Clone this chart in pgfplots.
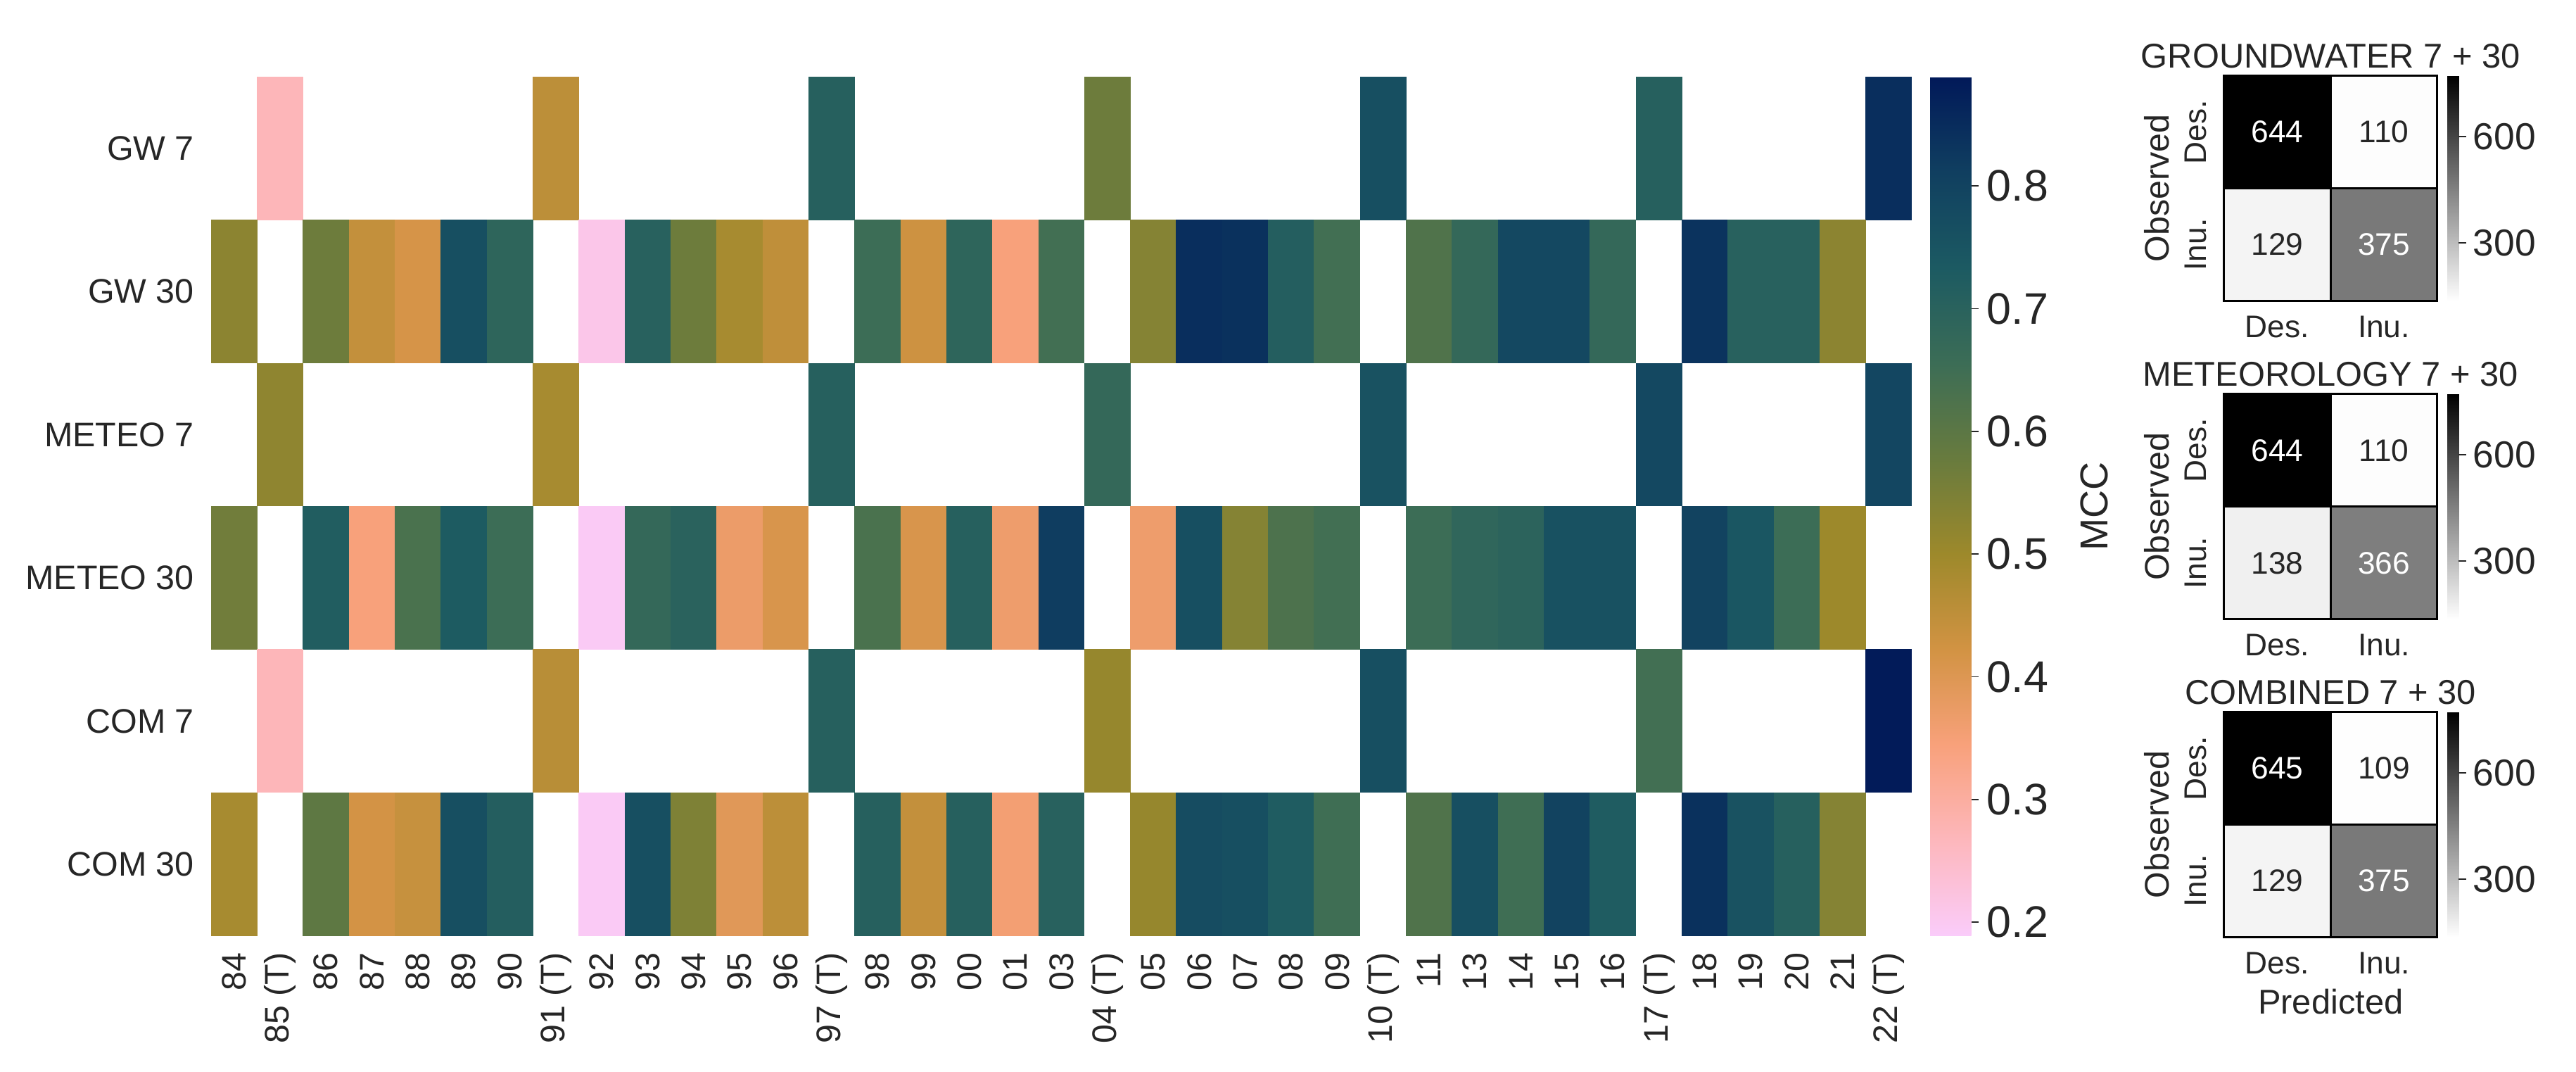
\documentclass[border=0pt]{standalone}
\usepackage{pgfplots}
\pgfplotsset{compat=1.18}
\usepackage{pgfplotstable}
\usepackage{fontspec}
\setmainfont{Liberation Sans}
\definecolor{txt}{RGB}{38,38,38}
\newcommand{\fs}[1]{\fontsize{#1}{#1}\selectfont}
\pgfplotsset{/pgf/number format/assume math mode=true}

\pgfdeclareplotmark{hmcell}{%
  \pgfpathrectangle{\pgfpoint{-2.82mm}{-8.73mm}}{\pgfpoint{5.64mm}{17.46mm}}%
  \pgfusepathqfill}

% MCC heatmap: x = column index, y = row index (0 = GW 7 ... 5 = COM 30)
\pgfplotstableread{
x y v
1 0 0.27
7 0 0.455
13 0 0.71
19 0 0.57
25 0 0.765
31 0 0.71
36 0 0.845
}\hmgwseven
\pgfplotstableread{
x y v
0 1 0.525
2 1 0.57
3 1 0.445
4 1 0.415
5 1 0.765
6 1 0.69
8 1 0.21
9 1 0.705
10 1 0.57
11 1 0.485
12 1 0.45
14 1 0.655
15 1 0.43
16 1 0.69
17 1 0.345
18 1 0.645
20 1 0.535
21 1 0.846
22 1 0.84
23 1 0.715
24 1 0.645
26 1 0.62
27 1 0.675
28 1 0.785
29 1 0.785
30 1 0.675
32 1 0.836
33 1 0.705
34 1 0.705
35 1 0.525
}\hmgwthirty
\pgfplotstableread{
x y v
1 2 0.52
7 2 0.485
13 2 0.71
19 2 0.675
25 2 0.755
31 2 0.785
36 2 0.79
}\hmmeseven
\pgfplotstableread{
x y v
0 3 0.565
2 3 0.72
3 3 0.345
4 3 0.63
5 3 0.73
6 3 0.655
8 3 0.195
9 3 0.675
10 3 0.70
11 3 0.37
12 3 0.41
14 3 0.63
15 3 0.41
16 3 0.71
17 3 0.365
18 3 0.815
20 3 0.365
21 3 0.765
22 3 0.535
23 3 0.625
24 3 0.645
26 3 0.655
27 3 0.685
28 3 0.695
29 3 0.76
30 3 0.76
32 3 0.80
33 3 0.745
34 3 0.655
35 3 0.50
}\hmmethirty
\pgfplotstableread{
x y v
1 4 0.27
7 4 0.46
13 4 0.71
19 4 0.51
25 4 0.765
31 4 0.645
36 4 0.885
}\hmcoseven
\pgfplotstableread{
x y v
0 5 0.485
2 5 0.595
3 5 0.42
4 5 0.44
5 5 0.765
6 5 0.715
8 5 0.195
9 5 0.765
10 5 0.545
11 5 0.393
12 5 0.455
14 5 0.71
15 5 0.445
16 5 0.71
17 5 0.355
18 5 0.705
20 5 0.51
21 5 0.775
22 5 0.765
23 5 0.725
24 5 0.65
26 5 0.62
27 5 0.765
28 5 0.65
29 5 0.80
30 5 0.725
32 5 0.84
33 5 0.755
34 5 0.71
35 5 0.535
}\hmcothirty

% confusion matrices: x = predicted, y = observed, n = count
\pgfplotstableread{
x y n
0 0 644
1 0 110
0 1 129
1 1 375
}\cmgw
\pgfplotstableread{
x y n
0 0 644
1 0 110
0 1 138
1 1 366
}\cmme
\pgfplotstableread{
x y n
0 0 645
1 0 109
0 1 129
1 1 375
}\cmco

\pgfplotsset{
  hmplot/.style={scatter, only marks, mark=hmcell, point meta=explicit,
    scatter/use mapped color={fill=mapped color}},
  cmcells/.style={matrix plot*, mesh/cols=2, point meta=explicit},
  cmtext/.style={only marks, mark=none, point meta=explicit,
    nodes near coords, nodes near coords align=center,
    every node near coord/.append style={font=\fs{10.8pt}, anchor=center}},
  cmaxis/.style={
    anchor=north west, scale only axis, width=25.96mm, height=27.4mm,
    xmin=-0.5, xmax=1.5, ymin=-0.5, ymax=1.5, y dir=reverse,
    axis line style={draw=none}, major tick length=0pt,
    xtick={0,1}, xticklabels={Des.,Inu.}, ytick={0,1}, yticklabels={Des.,Inu.},
    xticklabel style={font=\fs{10.8pt}, text=txt, inner sep=0pt, anchor=north},
    yticklabel style={font=\fs{10.8pt}, text=txt, inner sep=0pt, rotate=90, anchor=south},
    xticklabel shift=1.78mm, yticklabel shift=2.04mm,
    ylabel={Observed},
    ylabel style={at={(axis description cs:-0.3136,0.5)}, anchor=center, font=\fs{11.8pt}, text=txt, inner sep=0pt},
    title style={at={(axis description cs:0.5,1)}, anchor=base, yshift=-1.16mm, font=\fs{11.9pt}, text=txt, inner sep=0pt},
    colormap={cmgray}{rgb255(0cm)=(255,255,255); rgb255(1cm)=(0,0,0)},
    point meta min=107, point meta max=621,
    clip=false},
  cmbar/.style={
    anchor=north west, hide axis, scale only axis, width=1.4mm, height=27.4mm,
    xmin=0, xmax=1, ymin=0, ymax=1,
    point meta min=136, point meta max=772,
    colormap={cmgrayb}{rgb255(0cm)=(255,255,255); rgb255(1cm)=(0,0,0)},
    colorbar,
    colorbar shift/.style={},
    colorbar style={at={(parent axis.north west)}, anchor=north west,
      width=1.4mm, height=27.4mm, scale only axis,
      axis line style={draw=none},
      ytick={300,600}, yticklabels={300,600},
      ytick pos=right, yticklabel pos=right, tick align=outside,
      major tick length=0.9mm, tick style={txt, line width=0.45pt},
      yticklabel style={font=\fs{13pt}, text=txt, inner sep=0pt, anchor=west},
      yticklabel shift=0.78mm}}
}
\newcommand{\cmgrid}{%
  \draw[black, line width=0.75pt] (axis cs:-0.5,-0.5) rectangle (axis cs:1.5,1.5);
  \draw[black, line width=0.75pt] (axis cs:0.5,-0.5) -- (axis cs:0.5,1.5);
  \draw[black, line width=0.75pt] (axis cs:-0.5,0.5) -- (axis cs:1.5,0.5);}

\begin{document}
\begin{tikzpicture}
\useasboundingbox (0,0) rectangle (313.6mm,130.4mm);

\begin{axis}[
  at={(25.7mm,121.06mm)}, anchor=north west,
  scale only axis, width=207.02mm, height=104.54mm,
  xmin=-0.5, xmax=36.5, ymin=-0.5, ymax=5.5, y dir=reverse,
  axis line style={draw=none},
  major tick length=0pt,
  xtick={0,...,36},
  xticklabels={84,85 (T),86,87,88,89,90,91 (T),92,93,94,95,96,97 (T),98,99,00,01,03,04 (T),05,06,07,08,09,10 (T),11,13,14,15,16,17 (T),18,19,20,21,22 (T)},
  ytick={0,...,5},
  yticklabels={GW 7,GW 30,METEO 7,METEO 30,COM 7,COM 30},
  xticklabel style={rotate=90, anchor=east, inner sep=0pt, font=\fs{11.8pt}, text=txt},
  yticklabel style={anchor=east, inner sep=0pt, font=\fs{11.8pt}, text=txt},
  xticklabel shift=2mm, yticklabel shift=2mm,
  colormap={batlowr}{rgb255(0cm)=(250,204,250); rgb255(1cm)=(253,183,188); rgb255(2cm)=(248,161,123); rgb255(3cm)=(210,147,67); rgb255(4cm)=(157,137,43); rgb255(5cm)=(104,123,62); rgb255(6cm)=(60,109,86); rgb255(7cm)=(28,90,98); rgb255(8cm)=(16,63,96); rgb255(9cm)=(1,25,89)},
  point meta min=0.189, point meta max=0.889,
  colorbar,
  colorbar shift/.style={xshift=2.26mm},
  colorbar style={
    at={(parent axis.north east)}, anchor=north west,
    width=5mm, height=104.54mm, scale only axis,
    axis line style={draw=none},
    ytick={0.2,0.3,0.4,0.5,0.6,0.7,0.8},
    yticklabels={0.2,0.3,0.4,0.5,0.6,0.7,0.8},
    ytick pos=right, yticklabel pos=right, tick align=outside,
    major tick length=0.86mm, tick style={txt, line width=0.45pt},
    yticklabel style={font=\fs{15.3pt}, text=txt, inner sep=0pt, anchor=west},
    yticklabel shift=0.96mm},
  clip=false,
]
\addplot[hmplot] table[x=x, y=y, meta=v] {\hmgwseven};
\addplot[hmplot] table[x=x, y=y, meta=v] {\hmgwthirty};
\addplot[hmplot] table[x=x, y=y, meta=v] {\hmmeseven};
\addplot[hmplot] table[x=x, y=y, meta=v] {\hmmethirty};
\addplot[hmplot] table[x=x, y=y, meta=v] {\hmcoseven};
\addplot[hmplot] table[x=x, y=y, meta=v] {\hmcothirty};
\node[rotate=90, font=\fs{13.5pt}, text=txt, inner sep=0pt] at (axis description cs:1.1074,0.5) {MCC};
\end{axis}

\begin{axis}[cmaxis, at={(270.74mm,121.18mm)}, title={GROUNDWATER 7 + 30}]
\addplot[cmcells] table[x=x, y=y, meta=n] {\cmgw};
\cmgrid
\addplot[cmtext, nodes near coords style={text=white}] table[x=x, y=y, meta=n, restrict expr to domain={\thisrow{n}}{300:1000}] {\cmgw};
\addplot[cmtext, nodes near coords style={text=txt}] table[x=x, y=y, meta=n, restrict expr to domain={\thisrow{n}}{0:299}] {\cmgw};
\end{axis}
\begin{axis}[cmbar, at={(297.92mm,121.18mm)}]
\addplot[draw=none] coordinates {(0,0)};
\end{axis}

\begin{axis}[cmaxis, at={(270.74mm,82.44mm)}, title={METEOROLOGY 7 + 30}]
\addplot[cmcells] table[x=x, y=y, meta=n] {\cmme};
\cmgrid
\addplot[cmtext, nodes near coords style={text=white}] table[x=x, y=y, meta=n, restrict expr to domain={\thisrow{n}}{300:1000}] {\cmme};
\addplot[cmtext, nodes near coords style={text=txt}] table[x=x, y=y, meta=n, restrict expr to domain={\thisrow{n}}{0:299}] {\cmme};
\end{axis}
\begin{axis}[cmbar, at={(297.92mm,82.44mm)}]
\addplot[draw=none] coordinates {(0,0)};
\end{axis}

\begin{axis}[cmaxis, at={(270.74mm,43.74mm)}, title={COMBINED 7 + 30},
  xlabel={Predicted},
  xlabel style={at={(axis description cs:0.5,0)}, anchor=north, yshift=-6.2mm, font=\fs{11.9pt}, text=txt, inner sep=0pt}]
\addplot[cmcells] table[x=x, y=y, meta=n] {\cmco};
\cmgrid
\addplot[cmtext, nodes near coords style={text=white}] table[x=x, y=y, meta=n, restrict expr to domain={\thisrow{n}}{300:1000}] {\cmco};
\addplot[cmtext, nodes near coords style={text=txt}] table[x=x, y=y, meta=n, restrict expr to domain={\thisrow{n}}{0:299}] {\cmco};
\end{axis}
\begin{axis}[cmbar, at={(297.92mm,43.74mm)}]
\addplot[draw=none] coordinates {(0,0)};
\end{axis}
\end{tikzpicture}
\end{document}
